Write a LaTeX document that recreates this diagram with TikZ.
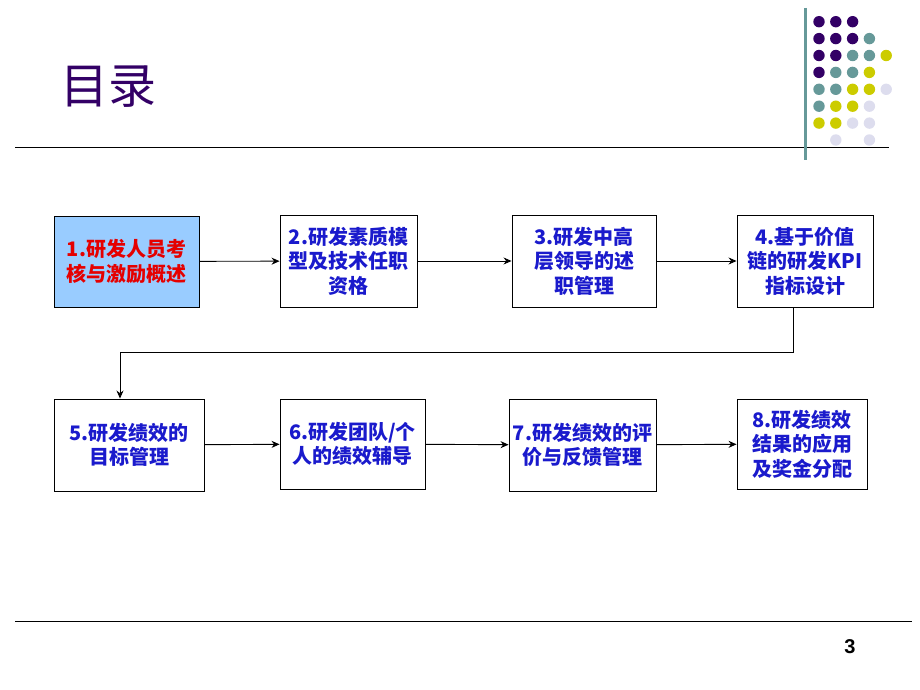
\documentclass[tikz,border=0pt]{standalone}
\usepackage{fontspec}
\setmainfont{Liberation Sans}
\newfontfamily\cjk{Noto Sans CJK SC}
\newfontfamily\numfont{Liberation Sans}
\usetikzlibrary{arrows.meta}

\definecolor{titlepurple}{HTML}{330066}
\definecolor{dotteal}{HTML}{669999}
\definecolor{dotyellow}{HTML}{CCCC00}
\definecolor{dotlilac}{HTML}{DDDDEE}
\definecolor{boxblue}{HTML}{99CCFF}
\definecolor{textblue}{HTML}{1A1ACC}

\tikzset{
    topicbox/.style={draw, line width=0.9pt, fill=white, align=center, inner sep=2pt,
        font=\cjk\bfseries\fontsize{20}{24.5}\selectfont, text=textblue},
    firstbox/.style={topicbox, fill=boxblue, text=red!90!black},
    flow/.style={-{Stealth[length=8pt,width=7pt]}, line width=0.9pt},
}

\begin{document}
\begin{tikzpicture}[x=1pt, y=-1pt]
        \useasboundingbox (0,0) rectangle (920,690);

        % 标题和横线
        \node[text=titlepurple, font=\cjk\fontsize{48}{52}\selectfont] (title) at (108,87) {目录};
        \draw[line width=1pt] (15,147) -- (889,147);
        \draw[line width=1pt] (15,621) -- (912,621);
        \node[font=\numfont\bfseries\fontsize{20}{24}\selectfont] (page) at (850,647) {3};

        % 右上角的圆点
        \draw[dotteal, line width=3pt] (805,8) -- (805,160);
        \foreach \c/\r/\col in {0/0/titlepurple, 1/0/titlepurple, 2/0/titlepurple,
                0/1/titlepurple, 1/1/titlepurple, 2/1/titlepurple, 3/1/dotteal,
                0/2/titlepurple, 1/2/titlepurple, 2/2/dotteal, 3/2/dotteal, 4/2/dotyellow,
                0/3/titlepurple, 1/3/dotteal, 2/3/dotteal, 3/3/dotyellow,
                0/4/dotteal, 1/4/dotteal, 2/4/dotyellow, 3/4/dotyellow, 4/4/dotlilac,
                0/5/dotteal, 1/5/dotyellow, 2/5/dotyellow, 3/5/dotlilac,
                0/6/dotyellow, 1/6/dotyellow, 2/6/dotlilac, 3/6/dotlilac,
                1/7/dotlilac, 3/7/dotlilac}
            \fill[\col] (819+16.8*\c, 21.7+16.9*\r) circle (5.7);

        % 第一行
        \node[firstbox, minimum width=145pt, minimum height=91pt] (b1) at (126.5,261.5) {1.研发人员考\\核与激励概述};
        \node[topicbox, minimum width=137pt, minimum height=92pt] (b2) at (348.5,261) {2.研发素质模\\型及技术任职\\资格};
        \node[topicbox, minimum width=144pt, minimum height=92pt] (b3) at (584,261) {3.研发中高\\层领导的述\\职管理};
        \node[topicbox, minimum width=136pt, minimum height=92pt] (b4) at (805,261) {4.基于价值\\链的研发KPI\\指标设计};

        % 第二行
        \node[topicbox, minimum width=150pt, minimum height=92pt] (b5) at (129,445) {5.研发绩效的\\目标管理};
        \node[topicbox, minimum width=145pt, minimum height=90pt] (b6) at (352.5,444) {6.研发团队/个\\人的绩效辅导};
        \node[topicbox, minimum width=147pt, minimum height=92pt] (b7) at (582.5,445) {7.研发绩效的评\\价与反馈管理};
        \node[topicbox, minimum width=130pt, minimum height=90pt] (b8) at (802,444) {8.研发绩效\\结果的应用\\及奖金分配};

        % 箭头
        \draw[flow] (b1) -- (b2);
        \draw[flow] (b2) -- (b3);
        \draw[flow] (b3) -- (b4);
        \draw[flow] ([xshift=-12pt]b4.south) -- ++(0,45) -| ([xshift=-9pt]b5.north);
        \draw[flow] (b5) -- (b6);
        \draw[flow] (b6) -- (b7);
        \draw[flow] (b7) -- (b8);
    \end{tikzpicture}
\end{document}
